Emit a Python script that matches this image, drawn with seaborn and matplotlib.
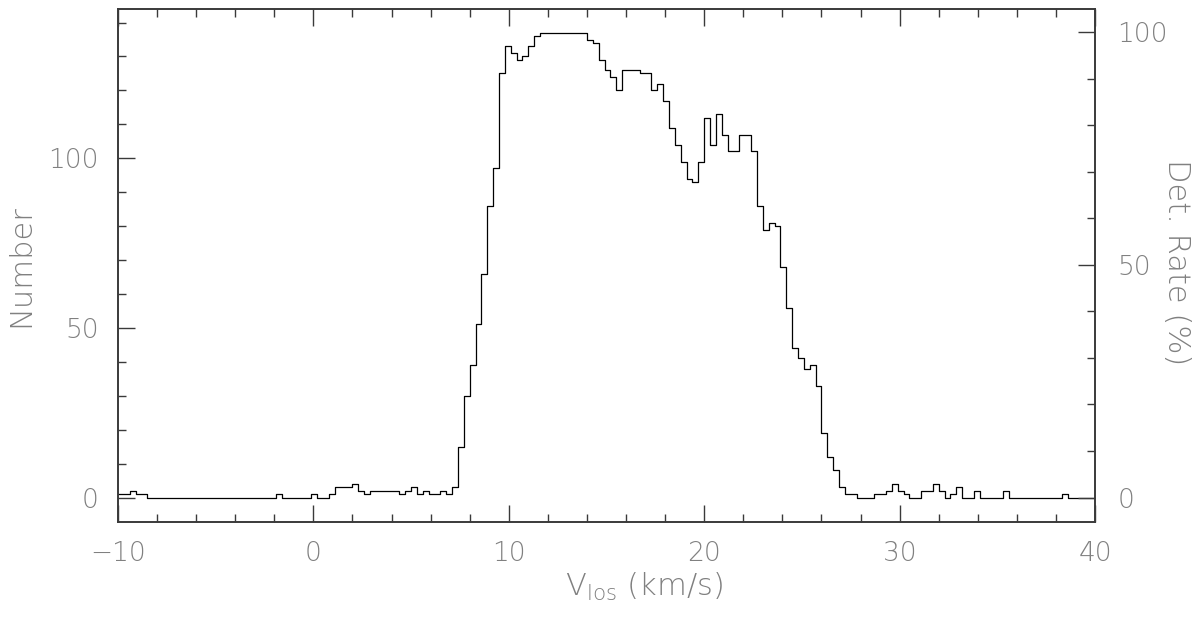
import numpy as np
import pandas as pd
import matplotlib
matplotlib.use("Agg")
import matplotlib.pyplot as plt
import seaborn as sns
from matplotlib.ticker import MultipleLocator

# ---- data ----
BIN_START = -10.0
BIN_WIDTH = 0.3
counts = [
    1, 1, 2, 1, 1,
    0, 0, 0, 0, 0, 0, 0, 0, 0, 0, 0, 0, 0, 0, 0, 0, 0, 0, 0, 0, 0, 0,
    1,
    0, 0, 0, 0, 0,
    1, 0, 0, 1,
    3, 3, 3, 4, 2, 1,
    2, 2, 2, 2, 2,
    1, 2, 3, 1, 2, 1, 1, 2, 1, 3,
    15, 30, 39, 51, 66, 86, 97, 125, 133, 131, 129, 130, 133, 136,
    137, 137, 137, 137, 137, 137, 137, 137,
    135, 134, 129, 126, 124, 120, 126, 126, 126, 125, 125, 120, 122, 117,
    109, 104, 99, 94, 93, 99, 112, 104, 113, 107, 102, 102, 107, 107, 102,
    86, 79, 81, 80, 68, 56, 44, 41, 38, 39, 33, 19, 12, 8, 3,
    1, 1, 0, 0, 0, 1, 1, 2, 4, 2, 1, 0, 0, 2, 2, 4, 2, 0, 1, 3, 0, 0,
    2, 0, 0, 0, 0, 2,
    0, 0, 0, 0, 0, 0, 0, 0, 0,
    1,
    0, 0, 0, 0, 0,
]
x_ticks = [-10, 0, 10, 20, 30, 40]
y_ticks = [0, 50, 100]
rate_ticks = [0, 50, 100]
peak_count = 137.2  # count corresponding to 100 % detection rate

n = len(counts)
edges = (BIN_START + BIN_WIDTH * np.arange(n + 1)).tolist()
centers = [0.5 * (edges[i] + edges[i + 1]) for i in range(n)]
df = pd.DataFrame({"vlos": centers, "count": counts})

# ---- style ----
sns.set_theme(style="white")
plt.rcParams["font.family"] = ["DejaVu Sans"]
plt.rcParams["font.weight"] = "light"
plt.rcParams["axes.labelweight"] = "light"
plt.rcParams["mathtext.default"] = "regular"
text_col = "#808080"
spine_col = "#3a3a3a"

fig = plt.figure(figsize=(12, 6.17), dpi=100)
ax = fig.add_axes([118 / 1200, 1 - 521.7 / 617, (1095 - 118) / 1200, (521.7 - 9) / 617])

sns.histplot(data=df, x="vlos", weights="count", bins=edges, element="step",
             fill=False, color="black", linewidth=0.9, ax=ax)

ax.set_xlim(-10, 40)
ax.set_ylim(-7.13, 144.0)

ax2 = ax.twinx()
ax2.set_ylim(-7.13 / peak_count * 100, 144.0 / peak_count * 100)

for a in (ax, ax2):
    for s in a.spines.values():
        s.set_color(spine_col)
        s.set_linewidth(1.2)
        s.set_visible(True)

ax.set_xticks(x_ticks)
ax.xaxis.set_minor_locator(MultipleLocator(2))
ax.set_yticks(y_ticks)
ax.yaxis.set_minor_locator(MultipleLocator(10))
ax2.set_yticks(rate_ticks)
ax2.yaxis.set_minor_locator(MultipleLocator(10))

ax.tick_params(axis="both", which="major", direction="in", length=12, width=1.0,
               color=spine_col, labelsize=19, labelcolor=text_col, pad=14)
ax.tick_params(axis="both", which="minor", direction="in", length=6, width=1.0,
               color=spine_col)
ax.tick_params(axis="x", which="both", top=True, bottom=True)
ax.tick_params(axis="y", which="both", left=True, right=False)
ax2.tick_params(axis="y", which="major", direction="in", length=12, width=1.0,
                color=spine_col, labelsize=19, labelcolor=text_col, pad=16)
ax2.tick_params(axis="y", which="minor", direction="in", length=6, width=1.0,
                color=spine_col)

ax.set_xlabel(r"V$_{los}$ (km/s)", fontsize=22, color=text_col, fontweight="light")
ax.xaxis.set_label_coords(0.538, -0.095)
ax.set_ylabel("Number", fontsize=22, color=text_col, fontweight="light")
ax.yaxis.set_label_coords(-0.085, 0.5)
ax2.set_ylabel("Det. Rate (%)", fontsize=22, color=text_col, rotation=-90,
               va="center", ha="center", fontweight="light")
ax2.yaxis.set_label_coords((1177 - 118) / 977, (521.7 - 262) / 512.7)

fig.savefig("out.png", dpi=100)
